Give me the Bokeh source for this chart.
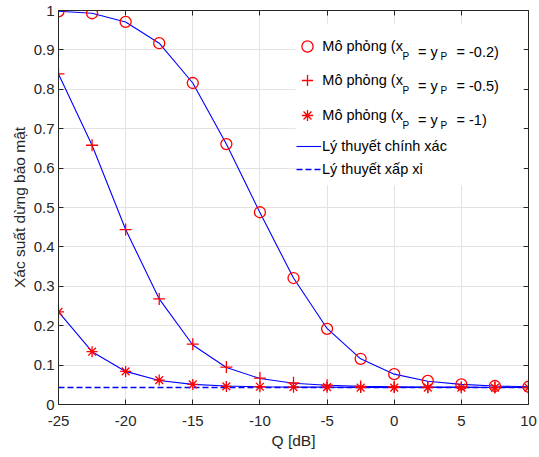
from bokeh.plotting import figure
from bokeh.models import (Range1d, FixedTicker, LinearAxis, Legend, LegendItem,
                          Label, BoxAnnotation)
from bokeh.embed import file_html
from bokeh.resources import INLINE

# ---------------- data ----------------
Q_DB = [-25, -22.5, -20, -17.5, -15, -12.5, -10, -7.5, -5, -2.5, 0, 2.5, 5, 7.5, 10]

SIM_02 = [0.998, 0.993, 0.971, 0.917, 0.816, 0.661, 0.488, 0.321, 0.192, 0.116, 0.077, 0.060, 0.051, 0.047, 0.045]
SIM_05 = [0.839, 0.658, 0.444, 0.268, 0.153, 0.095, 0.067, 0.055, 0.049, 0.046, 0.045, 0.044, 0.044, 0.043, 0.043]
SIM_1 = [0.235, 0.134, 0.084, 0.062, 0.051, 0.046, 0.045, 0.044, 0.044, 0.043, 0.043, 0.043, 0.043, 0.043, 0.043]

TH_02 = [0.998, 0.993, 0.971, 0.917, 0.816, 0.661, 0.487, 0.321, 0.193, 0.116, 0.077, 0.059, 0.051, 0.047, 0.045]
TH_05 = [0.839, 0.658, 0.444, 0.268, 0.151, 0.094, 0.066, 0.054, 0.049, 0.046, 0.045, 0.044, 0.044, 0.043, 0.043]
TH_1 = [0.235, 0.134, 0.084, 0.061, 0.051, 0.047, 0.045, 0.044, 0.044, 0.043, 0.043, 0.043, 0.043, 0.043, 0.043]
APPROX = [0.043, 0.043, 0.043, 0.043, 0.043, 0.043, 0.043, 0.043, 0.043, 0.043, 0.043, 0.043, 0.043, 0.043, 0.043]

X_TICKS = [-25, -20, -15, -10, -5, 0, 5, 10]
X_TICK_LABELS = ["-25", "-20", "-15", "-10", "-5", "0", "5", "10"]
Y_TICKS = [0, 0.1, 0.2, 0.3, 0.4, 0.5, 0.6, 0.7, 0.8, 0.9, 1]
Y_TICK_LABELS = ["0", "0.1", "0.2", "0.3", "0.4", "0.5", "0.6", "0.7", "0.8", "0.9", "1"]

SIM_MAIN = "Mô phỏng (x"
SIM_VALUES = ["-0.2)", "-0.5)", "-1)"]
LBL_EXACT = "Lý thuyết chính xác"
LBL_APPROX = "Lý thuyết xấp xỉ"
X_LABEL = "Q [dB]"
Y_LABEL = "Xác suất dừng bảo mật"

# ---------------- layout helpers ----------------
W, H = 539, 457
BL, BR, BT, BB = 58, 11, 10, 53
F_LEFT = BL                 # frame left in picture px
F_BOTTOM = H - BB           # frame bottom in picture px
F_W = W - BL - BR
F_H = H - BT - BB


def sx(px):
    return px - F_LEFT


def sy(py):
    return F_BOTTOM - py


def dx(px):
    return -25 + (px - F_LEFT) * 35.0 / F_W


def dy(py):
    return (F_BOTTOM - py) / F_H


FONT = "Liberation Sans"
DARK = "#262626"
BLUE = "#0000ff"
RED = "#ff0000"

p = figure(width=W, height=H, x_range=Range1d(-25, 10), y_range=Range1d(0, 1),
           output_backend="svg", toolbar_location=None,
           min_border_left=BL, min_border_right=BR, min_border_top=BT, min_border_bottom=BB)
p.outline_line_color = None
p.background_fill_color = "white"
p.border_fill_color = "white"

xt = FixedTicker(ticks=X_TICKS)
yt = FixedTicker(ticks=Y_TICKS)

for g, t in ((p.xgrid[0], xt), (p.ygrid[0], yt)):
    g.ticker = t
    g.grid_line_color = "#e3e3e3"
    g.grid_line_width = 1

ax = p.xaxis[0]
ax.ticker = xt
ax.major_label_overrides = dict(zip(X_TICKS, X_TICK_LABELS))
ay = p.yaxis[0]
ay.ticker = yt
ay.major_label_overrides = dict(zip(Y_TICKS, Y_TICK_LABELS))

for a in (ax, ay):
    a.major_tick_in = 5
    a.major_tick_out = 0
    a.minor_tick_line_color = None
    a.axis_line_color = DARK
    a.major_tick_line_color = DARK
    a.major_label_text_font = FONT
    a.major_label_text_font_size = "15px"
    a.major_label_text_color = DARK
    a.axis_label_text_font = FONT
    a.axis_label_text_font_size = "15.5px"
    a.axis_label_text_font_style = "normal"
    a.axis_label_text_color = DARK

ax.axis_label = X_LABEL
ax.major_label_standoff = 11
ax.axis_label_standoff = 3
ay.axis_label = Y_LABEL
ay.major_label_standoff = 4
ay.axis_label_standoff = 3

for loc, t in (("above", xt), ("right", yt)):
    a = LinearAxis(ticker=t, major_tick_in=5, major_tick_out=0,
                   minor_tick_line_color=None, axis_line_color=DARK,
                   major_tick_line_color=DARK, major_label_text_color=None,
                   major_label_text_font_size="1px", major_label_standoff=0)
    p.add_layout(a, loc)

# ---------------- series ----------------
r_th02 = p.line(Q_DB, TH_02, line_color=BLUE, line_width=1.1)
p.line(Q_DB, TH_05, line_color=BLUE, line_width=1.1)
p.line(Q_DB, TH_1, line_color=BLUE, line_width=1.1)
r_ap = p.line(Q_DB, APPROX, line_color=BLUE, line_width=1.5, line_dash="6 3")

r_c = p.scatter(Q_DB, SIM_02, marker="circle", size=11, fill_color=None,
                line_color=RED, line_width=1.3)
r_p = p.scatter(Q_DB, SIM_05, marker="cross", size=12,
                line_color=RED, line_width=1.3)
r_s = p.scatter(Q_DB, SIM_1, marker="asterisk", size=11,
                line_color=RED, line_width=1.3)

# ---------------- legend ----------------
p.add_layout(BoxAnnotation(left=dx(295), right=dx(523), top=dy(23), bottom=dy(185),
                           fill_color="white", fill_alpha=1, line_color=None))

rows = [
    (r_c, SIM_MAIN, 46.0, 293.3, 28, 28),
    (r_p, SIM_MAIN, 80.0, 293.3, 28, 28),
    (r_s, SIM_MAIN, 114.5, 293.3, 28, 28),
    (r_th02, LBL_EXACT, 145.5, 296.0, 25, 20),
    (r_ap, LBL_APPROX, 169.3, 296.0, 25, 20),
]
for r, text, cy, lx, gw, gh in rows:
    lg = Legend(items=[LegendItem(label=text, renderers=[r])],
                location=(sx(lx), sy(cy) - gh / 2.0),
                glyph_width=gw, glyph_height=gh, label_height=gh, label_width=10,
                padding=0, margin=0, spacing=0, label_standoff=1,
                border_line_color=None, background_fill_alpha=0,
                label_text_font=FONT, label_text_font_size="14.5px",
                label_text_color="black")
    p.add_layout(lg)

for i, val in enumerate(SIM_VALUES):
    base = rows[i][2] + 5.0
    segs = [("P", 402.0, base + 5.0, "10px"),
            ("= y", 417.5, base, "14.5px"),
            ("P", 440.0, base + 5.0, "10px"),
            ("= " + val, 456.0, base, "14.5px")]
    for txt, px, py, fs in segs:
        p.add_layout(Label(x=sx(px), y=sy(py), x_units="screen", y_units="screen",
                           text=txt, text_font=FONT, text_font_size=fs,
                           text_color="black", text_baseline="alphabetic",
                           text_align="left"))

open("out.html", "w").write(file_html(p, INLINE))
